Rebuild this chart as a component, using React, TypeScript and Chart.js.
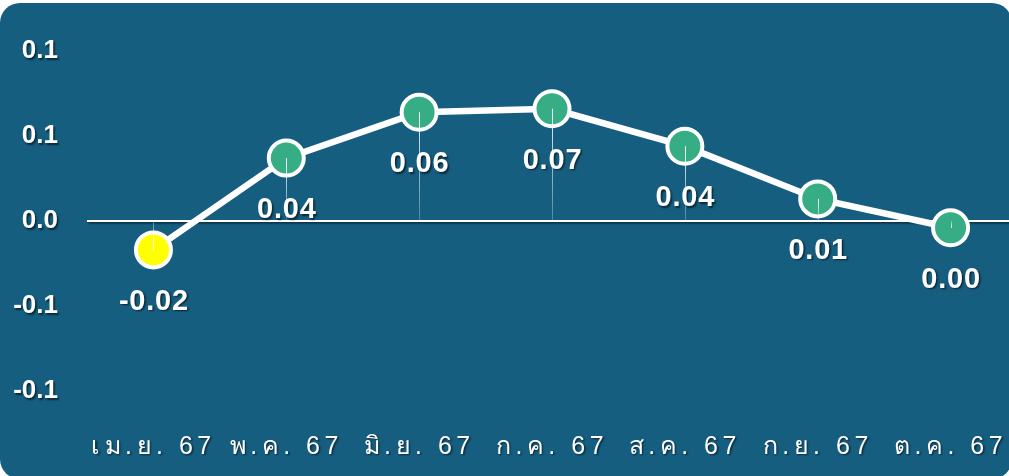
import React, { useEffect, useRef } from 'react';
import { Chart, registerables } from 'chart.js';

Chart.register(...registerables);

const categories: string[] = ['เม.ย. 67', 'พ.ค. 67', 'มิ.ย. 67', 'ก.ค. 67', 'ส.ค. 67', 'ก.ย. 67', 'ต.ค. 67'];
const values: number[] = [-0.017, 0.037, 0.064, 0.066, 0.044, 0.013, -0.004];
const pointColors: string[] = ['#ffff00', '#36ad84', '#36ad84', '#36ad84', '#36ad84', '#36ad84', '#36ad84'];
const yMin = -0.1;
const yMax = 0.1;
const yStep = 0.05;

const BG = '#165e80';
const FONT = '"Liberation Sans", Arial, sans-serif';

const fmtLabel = (v: number) => (Math.round(v * 100) / 100 + 0).toFixed(2);

const setShadow = (ctx: any, on: boolean) => {
  ctx.shadowColor = on ? 'rgba(0,0,0,0.6)' : 'rgba(0,0,0,0)';
  ctx.shadowOffsetX = on ? 1.5 : 0;
  ctx.shadowOffsetY = on ? 1.5 : 0;
  ctx.shadowBlur = on ? 2 : 0;
};

const shadowPlugin = {
  id: 'shadowText',
  beforeDraw(chart: any) {
    const ctx = chart.ctx;
    setShadow(ctx, true);
    ctx.letterSpacing = '0px';
  },
  beforeDatasetsDraw(chart: any) {
    setShadow(chart.ctx, false);
  },
  afterDatasetsDraw(chart: any) {
    const ctx = chart.ctx;
    const meta = chart.getDatasetMeta(0);
    const yScale = chart.scales.y;
    const zeroY = yScale.getPixelForValue(0);
    ctx.save();
    meta.data.forEach((pt: any) => {
      const x = Math.round(pt.x) + 0.5;
      const y = pt.y;
      const g = ctx.createLinearGradient(0, y, 0, zeroY);
      g.addColorStop(0, 'rgba(255,255,255,0.95)');
      g.addColorStop(1, 'rgba(255,255,255,0.25)');
      ctx.strokeStyle = g;
      ctx.lineWidth = 1;
      ctx.beginPath();
      ctx.moveTo(x, y);
      ctx.lineTo(x, zeroY);
      ctx.stroke();
    });
    setShadow(ctx, true);
    ctx.letterSpacing = '0.8px';
    ctx.fillStyle = '#ffffff';
    ctx.font = `bold 29px ${FONT}`;
    ctx.textAlign = 'center';
    ctx.textBaseline = 'middle';
    meta.data.forEach((pt: any, i: number) => {
      ctx.fillText(fmtLabel(values[i]), pt.x + 0.5, pt.y + 52);
    });
    ctx.restore();
    // x tick labels are drawn after this hook (ticks z = 1)
    setShadow(ctx, true);
    ctx.letterSpacing = '4.5px';
  },
  afterDraw(chart: any) {
    const ctx = chart.ctx;
    setShadow(ctx, false);
    ctx.letterSpacing = '0px';
  },
};

export default function App() {
  const canvasRef = useRef<HTMLCanvasElement | null>(null);

  useEffect(() => {
    if (!canvasRef.current) return;
    const chart = new Chart(canvasRef.current, {
      type: 'line',
      data: {
        labels: categories,
        datasets: [
          {
            data: values,
            borderColor: '#ffffff',
            borderWidth: 6.5,
            tension: 0,
            pointRadius: 17.5,
            pointHoverRadius: 17.5,
            pointBorderWidth: 4,
            pointHoverBorderWidth: 4,
            pointBorderColor: '#ffffff',
            pointBackgroundColor: pointColors,
            fill: false,
          },
        ],
      },
      options: {
        responsive: false,
        animation: false,
        devicePixelRatio: 1,
        layout: { autoPadding: false, padding: { top: 51, right: 0, left: 0, bottom: 0 } },
        plugins: {
          legend: { display: false },
          tooltip: { enabled: false },
        },
        scales: {
          x: {
            offset: true,
            border: { display: false },
            grid: {
              display: true,
              drawOnChartArea: false,
              drawTicks: true,
              tickLength: 41,
              tickColor: 'rgba(0,0,0,0)',
            },
            afterFit: (scale: any) => {
              scale.height = 85;
              scale.paddingLeft = 0;
              scale.paddingRight = 0;
            },
            ticks: {
              z: 1,
              autoSkip: false,
              maxRotation: 0,
              minRotation: 0,
              padding: 0,
              color: '#ffffff',
              font: { family: FONT, size: 25 },
            },
          },
          y: {
            min: yMin,
            max: yMax,
            border: { display: false },
            afterFit: (scale: any) => {
              scale.width = 87;
            },
            grid: {
              drawTicks: false,
              color: (ctx: any) => (ctx.tick && ctx.tick.value === 0 ? '#ffffff' : 'rgba(0,0,0,0)'),
              lineWidth: (ctx: any) => (ctx.tick && ctx.tick.value === 0 ? 2 : 0),
            },
            ticks: {
              stepSize: yStep,
              padding: 29,
              color: '#ffffff',
              font: { family: FONT, size: 26, weight: 'bold' },
              callback: (v: any) => Number(v).toFixed(1),
            },
          },
        },
      },
      plugins: [shadowPlugin],
    });
    return () => chart.destroy();
  }, []);

  return (
    <div style={{ position: 'absolute', left: 0, top: 0, width: 1009, height: 476, overflow: 'hidden', background: '#ffffff' }}>
      <div style={{ position: 'absolute', left: 0, top: 3, width: 1012, height: 476, borderRadius: 20, background: BG }} />
      <canvas ref={canvasRef} width={1017} height={476} style={{ position: 'absolute', left: 0, top: 0, width: 1017, height: 476 }} />
    </div>
  );
}
